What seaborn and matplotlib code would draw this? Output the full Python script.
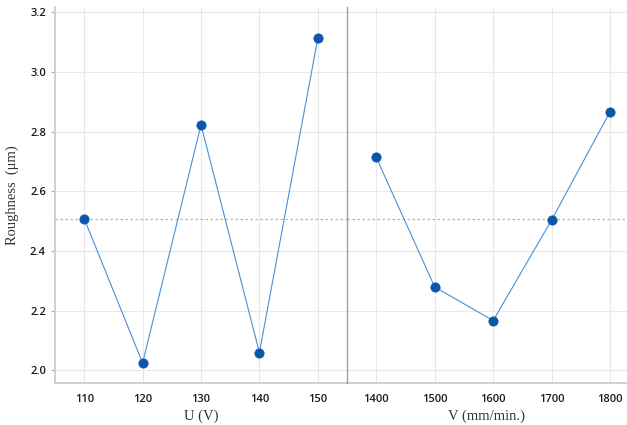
import numpy as np
import pandas as pd
import matplotlib
matplotlib.use("Agg")
import matplotlib.pyplot as plt
import seaborn as sns

u_levels = [110, 120, 130, 140, 150]
u_rough = [2.509, 2.025, 2.823, 2.060, 3.113]

v_levels = [1400, 1500, 1600, 1700, 1800]
v_rough = [2.714, 2.280, 2.167, 2.504, 2.867]

y_ticks = [2.0, 2.2, 2.4, 2.6, 2.8, 3.0, 3.2]

sns.set_theme(style="white")
plt.rcParams["font.family"] = ["Open Sans", "DejaVu Sans"]

df_u = pd.DataFrame({"level": u_levels, "rough": u_rough})
df_v = pd.DataFrame({"level": v_levels, "rough": v_rough})
mean_rough = np.mean(u_rough + v_rough)

fig = plt.figure(figsize=(6.27, 4.25), dpi=100)
ax1 = fig.add_axes([55 / 627, 1 - 383 / 425, (347 - 55) / 627, (383 - 7) / 425])
ax2 = fig.add_axes([347 / 627, 1 - 383 / 425, (627 - 347) / 627, (383 - 7) / 425], sharey=ax1)
ax2.patch.set_alpha(0)

line_col = "#4a8fd6"
dot_col = "#0a56a8"

for ax, df in [(ax1, df_u), (ax2, df_v)]:
    sns.lineplot(data=df, x="level", y="rough", ax=ax, color=line_col,
                 linewidth=0.8, zorder=3)
    sns.scatterplot(data=df, x="level", y="rough", ax=ax, color=dot_col,
                    s=45, edgecolor=dot_col, linewidth=0.5, zorder=4)
    ax.axhline(mean_rough, color="#b5b5b5", linestyle=(0, (2, 2)),
               linewidth=0.9, zorder=2)
    ax.grid(True, color="#e8e8e8", linewidth=0.8)
    ax.set_axisbelow(True)
    for s in ["top", "right", "left", "bottom"]:
        ax.spines[s].set_visible(False)
    ax.spines["bottom"].set_visible(True)
    ax.spines["bottom"].set_color("#c8c8c8")
    ax.spines["bottom"].set_linewidth(1.2)
    ax.tick_params(axis="x", length=0, pad=8, labelsize=8, colors="#1a1a1a")
    ax.set_xticks(df["level"])
    for lab in ax.get_xticklabels():
        lab.set_fontweight("semibold")

ax1.set_xlim(105, 155)
ax2.set_xlim(1350, 1829)
ax1.set_ylim(1.958, 3.218)
ax1.set_yticks(y_ticks)
ax1.set_yticklabels([f"{t:.1f}" for t in y_ticks], fontweight="semibold")

ax1.spines["left"].set_visible(True)
ax1.spines["left"].set_color("#c8c8c8")
ax1.spines["left"].set_linewidth(1.2)
ax2.spines["left"].set_visible(True)
ax2.spines["left"].set_color("#a0a0a0")
ax2.spines["left"].set_linewidth(1.0)
ax2.spines["left"].set_zorder(5)
ax1.tick_params(axis="y", length=3, width=0.8, color="#aaaaaa",
                labelsize=8, colors="#1a1a1a", left=True)
ax1.tick_params(axis="y", color="#aaaaaa")
ax2.tick_params(axis="y", left=False, labelleft=False)

serif = ["Liberation Serif", "DejaVu Serif"]
ax1.set_xlabel("U (V)", family=serif, fontsize=10.5, color="#333333", labelpad=3)
ax2.set_xlabel("V (mm/min.)", family=serif, fontsize=10.5, color="#333333", labelpad=3)
ax1.set_ylabel("Roughness  (μm)", family=serif, fontsize=10.5, color="#333333", labelpad=8)
ax2.set_ylabel("")

fig.savefig("out.png", dpi=100)
